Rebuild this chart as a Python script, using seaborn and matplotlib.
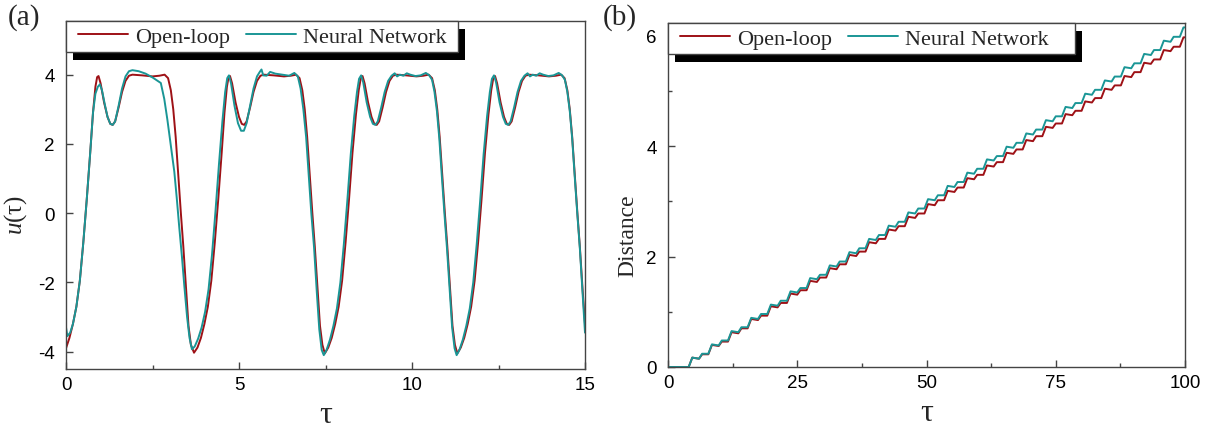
import numpy as np
import pandas as pd
import matplotlib
matplotlib.use("Agg")
import matplotlib.pyplot as plt
import seaborn as sns
from matplotlib.patches import Rectangle
from matplotlib.ticker import MultipleLocator

# ---------------- data: panel (a) control input u(tau) ----------------
tau_open = [0.00, 0.10, 0.20, 0.30, 0.40, 0.50, 0.60, 0.70, 0.78, 0.85, 0.90, 0.94, 1.00, 1.10, 1.20, 1.28, 1.35, 1.42,
            1.52, 1.62, 1.72, 1.82, 1.92, 2.20, 2.50, 2.70, 2.85, 2.95, 3.03, 3.10, 3.17, 3.24, 3.32, 3.39, 3.47, 3.54,
            3.61, 3.70,
            3.80, 3.90, 4.00, 4.10, 4.20, 4.30, 4.40, 4.50, 4.58, 4.65, 4.70, 4.74, 4.80, 4.90, 5.00, 5.08, 5.15, 5.22,
            5.32, 5.42, 5.52, 5.62, 5.72, 6.00, 6.30, 6.50, 6.65, 6.75, 6.83, 6.90, 6.97, 7.04, 7.12, 7.19, 7.27, 7.34,
            7.41, 7.48,
            7.58, 7.68, 7.78, 7.88, 7.98, 8.08, 8.18, 8.28, 8.38, 8.46, 8.52, 8.57, 8.63, 8.73, 8.83, 8.91, 8.98, 9.05,
            9.15, 9.25, 9.35, 9.45, 9.55, 9.83, 10.13, 10.33, 10.48, 10.58, 10.66, 10.73, 10.80, 10.87, 10.95, 11.02,
            11.10, 11.17, 11.24, 11.31,
            11.41, 11.51, 11.61, 11.71, 11.81, 11.91, 12.01, 12.11, 12.21, 12.29, 12.35, 12.40, 12.46, 12.56, 12.66,
            12.74, 12.81, 12.88, 12.98, 13.08, 13.18, 13.28, 13.38, 13.66, 13.96, 14.16, 14.31, 14.41, 14.49, 14.56,
            14.63, 14.70, 14.78, 14.85, 14.93, 15.00]
u_open = [-3.90, -3.60, -3.20, -2.70, -1.95, -0.85, 0.40, 1.75, 2.90, 3.65, 3.93, 3.96, 3.75, 3.20, 2.78, 2.58, 2.55, 2.65,
          3.05, 3.50, 3.82, 3.97, 4.00, 3.98, 3.95, 3.97, 4.00, 3.90, 3.55, 3.00, 2.20, 1.16, 0.00, -0.95, -2.20, -3.25,
          -3.80, -4.03,
          -3.88, -3.60, -3.20, -2.70, -1.95, -0.85, 0.40, 1.75, 2.90, 3.65, 3.93, 3.96, 3.75, 3.20, 2.78, 2.58, 2.55, 2.65,
          3.05, 3.50, 3.82, 3.97, 4.00, 3.98, 3.95, 3.97, 4.00, 3.90, 3.55, 3.00, 2.20, 1.16, 0.00, -0.95, -2.20, -3.25,
          -3.80, -4.05,
          -3.88, -3.60, -3.20, -2.70, -1.95, -0.85, 0.40, 1.75, 2.85, 3.55, 3.90, 3.96, 3.75, 3.20, 2.78, 2.58, 2.55, 2.65,
          3.05, 3.50, 3.82, 3.97, 4.00, 3.98, 3.95, 3.97, 4.00, 3.90, 3.55, 3.00, 2.20, 1.16, 0.00, -0.95,
          -2.20, -3.25, -3.80, -4.05,
          -3.88, -3.60, -3.20, -2.70, -1.95, -0.85, 0.40, 1.75, 2.85, 3.55, 3.90, 3.96, 3.75, 3.20, 2.78,
          2.58, 2.55, 2.65, 3.05, 3.50, 3.82, 3.97, 4.00, 3.98, 3.95, 3.97, 4.00, 3.90, 3.55, 3.00,
          2.20, 1.16, 0.00, -0.95, -2.20, -3.20]

tau_nn = [0.00, 0.04, 0.12, 0.20, 0.30, 0.40, 0.50, 0.60, 0.70, 0.78, 0.85, 0.92, 0.98, 1.04, 1.12, 1.20, 1.28, 1.35,
          1.42, 1.52, 1.62, 1.72, 1.82, 1.92, 2.10, 2.30, 2.50, 2.74, 2.84, 2.93, 3.03, 3.13, 3.20, 3.27, 3.35, 3.42,
          3.50, 3.57, 3.64,
          3.72, 3.82, 3.92, 4.02, 4.12, 4.22, 4.32, 4.42, 4.52, 4.60, 4.66, 4.71, 4.77, 4.87, 4.97, 5.06, 5.14, 5.22,
          5.32, 5.42, 5.52, 5.60, 5.65, 5.70, 5.80, 5.90, 6.05, 6.25, 6.45, 6.60, 6.70, 6.78, 6.86, 6.94, 7.01, 7.09,
          7.17, 7.25, 7.32, 7.39, 7.45,
          7.53, 7.63, 7.73, 7.83, 7.93, 8.03, 8.13, 8.23, 8.33, 8.41, 8.47, 8.53, 8.59, 8.69, 8.79, 8.87, 8.94, 9.01,
          9.11, 9.21, 9.31, 9.41, 9.50, 9.57, 9.65, 9.75, 9.85, 9.95, 10.10, 10.25, 10.40, 10.50, 10.58, 10.65, 10.72,
          10.79, 10.86, 10.94, 11.01, 11.09, 11.16, 11.23, 11.29,
          11.37, 11.47, 11.57, 11.67, 11.77, 11.87, 11.97, 12.07, 12.17, 12.25, 12.31, 12.37, 12.43, 12.53, 12.63,
          12.71, 12.78, 12.85, 12.95, 13.05, 13.15, 13.25, 13.34, 13.41, 13.49, 13.59, 13.69, 13.79, 13.94, 14.09,
          14.24, 14.34, 14.42, 14.49, 14.56, 14.63, 14.70, 14.78, 14.85, 14.93, 15.00]
u_nn = [-3.30, -3.55, -3.45, -3.20, -2.70, -1.95, -0.85, 0.40, 1.75, 2.90, 3.45, 3.65, 3.72, 3.55, 3.15, 2.78, 2.58, 2.55,
        2.65, 3.10, 3.60, 3.95, 4.10, 4.13, 4.10, 4.03, 3.92, 3.76, 3.30, 2.70, 1.95, 1.20, 0.45, -0.37, -1.25, -2.10,
        -3.00, -3.60, -3.93,
        -3.85, -3.62, -3.30, -2.85, -2.20, -1.20, 0.05, 1.40, 2.65, 3.50, 3.90, 3.98, 3.75, 3.10, 2.60, 2.38, 2.38, 2.60,
        3.10, 3.60, 3.95, 4.08, 4.15, 3.98, 3.97, 4.08, 4.03, 4.00, 3.97, 4.05, 3.95, 3.60, 3.00, 2.20, 1.16, 0.00,
        -1.00, -2.30, -3.35, -3.95, -4.10,
        -3.95, -3.65, -3.25, -2.75, -2.00, -0.90, 0.35, 1.70, 2.80, 3.50, 3.88, 3.98, 3.78, 3.20, 2.78, 2.58, 2.55, 2.65,
        3.05, 3.50, 3.82, 3.97, 4.04, 3.95, 4.00, 3.97, 4.04, 4.00, 3.96, 3.98, 4.05, 3.98, 3.85, 3.50, 2.95,
        2.15, 1.10, -0.05, -1.00, -2.25, -3.30, -3.90, -4.10,
        -3.95, -3.65, -3.25, -2.75, -2.00, -0.90, 0.35, 1.70, 2.80, 3.50, 3.88, 3.98, 3.78, 3.20, 2.78,
        2.58, 2.55, 2.65, 3.05, 3.50, 3.82, 3.97, 4.04, 3.95, 4.00, 3.97, 4.04, 4.00, 3.96, 3.98,
        4.05, 3.98, 3.85, 3.50, 2.95, 2.15, 1.10, -0.05, -1.00, -2.30, -3.45]

# ---------------- data: panel (b) distance ----------------
tau_b = [0.0,
         4.0, 4.7, 6.0, 6.6, 7.8, 8.5, 9.8, 10.4, 11.6, 12.3, 13.6, 14.2, 15.4, 16.1, 17.4, 18.0,
         19.2, 19.9, 21.2, 21.8, 23.0, 23.7, 25.0, 25.6, 26.8, 27.5, 28.8, 29.4, 30.6, 31.3, 32.6, 33.2,
         34.4, 35.1, 36.4, 37.0, 38.2, 38.9, 40.2, 40.8, 42.0, 42.7, 44.0, 44.6, 45.8, 46.5, 47.8, 48.4,
         49.6, 50.3, 51.6, 52.2, 53.4, 54.1, 55.4, 56.0, 57.2, 57.9, 59.2, 59.8, 61.0, 61.7, 63.0, 63.6,
         64.8, 65.5, 66.8, 67.4, 68.6, 69.3, 70.6, 71.2, 72.4, 73.1, 74.4, 75.0, 76.2, 76.9, 78.2, 78.8,
         80.0, 80.7, 82.0, 82.6, 83.8, 84.5, 85.8, 86.4, 87.6, 88.3, 89.6, 90.2, 91.4, 92.1, 93.4, 94.0,
         95.2, 95.9, 97.2, 97.8, 99.0, 99.7, 100.0]
dist_open = [0.00,
             0.00, 0.17, 0.15, 0.23, 0.23, 0.40, 0.38, 0.46, 0.46, 0.63, 0.61, 0.70, 0.70, 0.87, 0.85, 0.93,
             0.93, 1.10, 1.08, 1.16, 1.16, 1.33, 1.31, 1.39, 1.39, 1.56, 1.54, 1.62, 1.62, 1.79, 1.77, 1.86,
             1.86, 2.03, 2.01, 2.09, 2.09, 2.26, 2.24, 2.32, 2.32, 2.49, 2.47, 2.55, 2.55, 2.72, 2.70, 2.78,
             2.78, 2.95, 2.93, 3.02, 3.02, 3.19, 3.17, 3.25, 3.25, 3.42, 3.40, 3.48, 3.48, 3.65, 3.63, 3.71,
             3.71, 3.88, 3.86, 3.94, 3.94, 4.11, 4.09, 4.18, 4.18, 4.35, 4.33, 4.41, 4.41, 4.58, 4.56, 4.64,
             4.64, 4.81, 4.79, 4.87, 4.87, 5.04, 5.02, 5.10, 5.10, 5.27, 5.25, 5.34, 5.34, 5.51, 5.49, 5.57,
             5.57, 5.74, 5.72, 5.80, 5.80, 5.97, 5.97]
dist_nn = [0.00,
           0.00, 0.17, 0.15, 0.24, 0.24, 0.41, 0.39, 0.48, 0.48, 0.65, 0.63, 0.72, 0.72, 0.89, 0.87, 0.96,
           0.96, 1.13, 1.11, 1.20, 1.20, 1.37, 1.35, 1.43, 1.43, 1.61, 1.59, 1.67, 1.67, 1.84, 1.82, 1.91,
           1.91, 2.08, 2.06, 2.15, 2.15, 2.32, 2.30, 2.39, 2.39, 2.56, 2.54, 2.63, 2.63, 2.80, 2.78, 2.87,
           2.87, 3.04, 3.02, 3.11, 3.11, 3.28, 3.26, 3.35, 3.35, 3.52, 3.50, 3.59, 3.59, 3.76, 3.74, 3.82,
           3.82, 3.99, 3.97, 4.06, 4.06, 4.23, 4.21, 4.30, 4.30, 4.47, 4.45, 4.54, 4.54, 4.71, 4.69, 4.78,
           4.78, 4.95, 4.93, 5.02, 5.02, 5.19, 5.17, 5.26, 5.26, 5.43, 5.41, 5.50, 5.50, 5.67, 5.65, 5.74,
           5.74, 5.91, 5.89, 5.98, 5.98, 6.15, 6.15]

series_names = ["Open-loop", "Neural Network"]
colors = ["#9E1116", "#1A9696"]

# ---------------- style ----------------
sns.set_theme(style="white")
plt.rcParams["font.family"] = ["Liberation Sans", "DejaVu Sans"]
plt.rcParams["axes.unicode_minus"] = False
plt.rcParams["mathtext.fontset"] = "custom"
plt.rcParams["mathtext.it"] = "Liberation Serif:italic"
plt.rcParams["mathtext.rm"] = "Liberation Serif"

SERIF = ["Liberation Serif", "DejaVu Serif"]

W, H = 1211, 431
fig = plt.figure(figsize=(W / 100, H / 100), dpi=100)
ax1 = fig.add_axes([66 / W, 61 / H, 519 / W, 348 / H])
ax2 = fig.add_axes([668 / W, 63 / H, 517 / W, 344 / H])

lw = 1.4
sns.lineplot(x=tau_open, y=u_open, ax=ax1, color=colors[0], lw=lw, sort=False, estimator=None, label=series_names[0])
sns.lineplot(x=tau_nn, y=u_nn, ax=ax1, color=colors[1], lw=lw, sort=False, estimator=None, label=series_names[1])
sns.lineplot(x=tau_b, y=dist_open, ax=ax2, color=colors[0], lw=lw, sort=False, estimator=None, label=series_names[0])
sns.lineplot(x=tau_b, y=dist_nn, ax=ax2, color=colors[1], lw=lw, sort=False, estimator=None, label=series_names[1])

ax1.set_xlim(0, 15)
ax1.set_ylim(-4.5, 5.55)
ax1.set_xticks([0, 5, 10, 15])
ax1.xaxis.set_minor_locator(MultipleLocator(2.5))
ax1.set_yticks([-4, -2, 0, 2, 4])

ax2.set_xlim(0, 100)
ax2.set_ylim(0, 6.23)
ax2.set_xticks([0, 25, 50, 75, 100])
ax2.xaxis.set_minor_locator(MultipleLocator(12.5))
ax2.set_yticks([0, 2, 4, 6])
ax2.yaxis.set_minor_locator(MultipleLocator(1))

for ax in (ax1, ax2):
    for s in ax.spines.values():
        s.set_color("#444444")
        s.set_linewidth(1.0)
    ax.tick_params(which="both", direction="in", top=False, right=False,
                   colors="#444444", labelcolor="black", labelsize=13.5)
    ax.tick_params(which="major", length=5, width=1, bottom=True, left=True)
    ax.tick_params(axis="y", which="major", pad=8)
    ax.tick_params(axis="x", which="major", pad=5)
    ax.tick_params(which="minor", length=3, width=1, bottom=True, left=True)
    ax.set_xlabel("τ", fontfamily=SERIF, fontsize=23, labelpad=5)

ax1.set_ylabel(r"$u$(τ)", fontfamily=SERIF, fontsize=18)
ax1.yaxis.set_label_coords(-0.072, 0.445)
ax2.set_ylabel("Distance", fontfamily=SERIF, fontsize=17)
ax2.yaxis.set_label_coords(-0.057, 0.385)

fig.text(8 / W, 1 - 4 / H, "(a)", fontfamily=SERIF, fontsize=21, va="top", ha="left")
fig.text(603 / W, 1 - 4 / H, "(b)", fontfamily=SERIF, fontsize=21, va="top", ha="left")

# legend box (white frame + black offset shadow) and its content
for ax, box_w_px, ax_w_px, ax_h_px in ((ax1, 392, 519, 348), (ax2, 407, 517, 344)):
    bw = box_w_px / ax_w_px
    bh = 31 / ax_h_px
    dx, dy = 7 / ax_w_px, 8 / ax_h_px
    ax.add_patch(Rectangle((dx, 1 - bh - dy), bw, bh, transform=ax.transAxes,
                           facecolor="black", edgecolor="none", zorder=5.0, clip_on=False))
    ax.add_patch(Rectangle((0, 1 - bh), bw, bh, transform=ax.transAxes,
                           facecolor="white", edgecolor="#444444", lw=1.0, zorder=5.2, clip_on=False))
    leg = ax.legend(loc="center left", bbox_to_anchor=(12 / ax_w_px, 1 - bh / 2), ncol=2,
                    frameon=False, borderaxespad=0, borderpad=0, handlelength=2.25, handletextpad=0.32,
                    columnspacing=0.72, prop={"family": SERIF, "size": 16})
    leg.set_zorder(6)

fig.savefig("out.png", dpi=100)
